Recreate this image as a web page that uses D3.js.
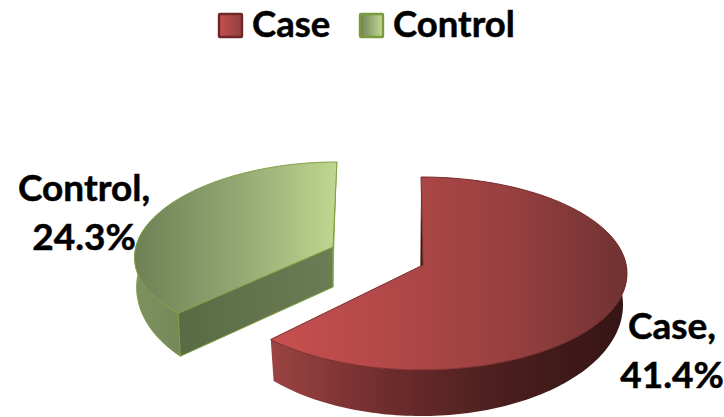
<!DOCTYPE html>
<html>
<head>
<meta charset="utf-8">
<style>
html,body{margin:0;padding:0;background:#fff}
svg{display:block}
text{font-family:Lato,"Open Sans",sans-serif;font-weight:700;fill:#000;stroke:#000;stroke-width:0.5px}
</style>
<script src="https://cdn.jsdelivr.net/npm/d3@7"></script>
</head>
<body>
<svg id="chart" width="724" height="417"></svg>
<script>
const categories = ["Case", "Control"];
const values = [41.4, 24.3];
const labelLines = [["Case,", "41.4%"], ["Control,", "24.3%"]];

const W = 724, H = 417;
const svg = d3.select("#chart").attr("viewBox", [0, 0, W, H]);
const defs = svg.append("defs");

// Horizontal gradients shared by the slice faces, walls and legend keys
function gradient(id, stops, x1, x2) {
  const g = defs.append("linearGradient").attr("id", id);
  if (x1 !== undefined) {
    g.attr("gradientUnits", "userSpaceOnUse").attr("x1", x1).attr("x2", x2).attr("y1", 0).attr("y2", 0);
  }
  stops.forEach((c, i) => g.append("stop").attr("offset", i / (stops.length - 1)).attr("stop-color", c));
}
gradient("caseTop", ["#c85050", "#b24848", "#984040", "#703232"], 271, 627);
gradient("caseWall", ["#9c4343", "#6e2c2c", "#4a1e1e", "#361515"], 271, 622);
gradient("controlTop", ["#6f8055", "#93a672", "#bfd790"], 135, 337);
gradient("controlFront", ["#5a6a45", "#6c7c55"], 178, 333);
gradient("controlOuter", ["#7d9160", "#75885a"], 135, 180);
gradient("keyCase", ["#c45050", "#93403f"]);
gradient("keyControl", ["#6f8055", "#c2da94"]);

// Tilted-disc projection for each slice: apex position plus the upper and lower rims
const geometry = {
  Case: {
    apex: [423, 265], drop: [-3, 40],
    top: {xc: -2, yc: 8.5, rx: 206, ry: 96.5, k: 0},
    low: {xc: -2, yc: 40, rx: 202, ry: 111, k: 0},
    wallStart: 62
  },
  Control: {
    apex: [333, 247], drop: [0, 40],
    top: {xc: -8, yc: 4.8, rx: 190, ry: 89.8, k: 11.9},
    low: {xc: -8, yc: 34, rx: 188, ry: 110, k: 11}
  }
};
const project = (apex, p, a) => [
  apex[0] + p.xc + p.rx * Math.sin(a) + p.k * Math.cos(a),
  apex[1] + p.yc - p.ry * Math.cos(a)
];
const sweep = (a0, a1) => d3.range(0, 121).map(i => a0 + (a1 - a0) * i / 120);
const line = d3.line();
const fillColors = d3.scaleOrdinal(categories, ["url(#caseTop)", "url(#controlTop)"]);
const edgeColors = d3.scaleOrdinal(categories, ["#7a2a2a", "#7f9f42"]);

const slices = d3.pie().sort(null).value(d => d.value).startAngle(0).endAngle(2 * Math.PI)(
  categories.map((name, i) => ({name, value: values[i]}))
);

// Back-to-front: the detached slice first, then the larger one
slices.slice().reverse().forEach(s => {
  const name = s.data.name, g = geometry[name];
  const layer = svg.append("g").attr("class", "slice-" + name);
  const upper = a => project(g.apex, g.top, a);
  const lower = a => project(g.apex, g.low, a);
  const apexDown = [g.apex[0] + g.drop[0], g.apex[1] + g.drop[1]];

  if (name === "Case") {
    // Thin inner wall along the start edge
    const r0 = upper(s.startAngle);
    layer.append("path").attr("fill", "#3d1616")
      .attr("d", line([r0, lower(s.startAngle), apexDown, g.apex]) + "Z");
    // Outer wall running round the front, from the right side to the cut
    const wallA = sweep(g.wallStart * Math.PI / 180, s.endAngle);
    layer.append("path").attr("fill", "url(#caseWall)")
      .attr("d", line(wallA.map(upper).concat(wallA.slice().reverse().map(lower))) + "Z");
  } else {
    // Outer wall on the left, then the cut face towards the viewer
    const wallA = sweep(s.startAngle, 290 * Math.PI / 180);
    layer.append("path").attr("fill", "url(#controlOuter)").attr("stroke", "#7f9f42").attr("stroke-width", 1)
      .attr("d", line(wallA.map(upper).concat(wallA.slice().reverse().map(lower))) + "Z");
    layer.append("path").attr("fill", "url(#controlFront)").attr("stroke", "#7f9f42").attr("stroke-width", 1)
      .attr("d", line([upper(s.startAngle), g.apex, apexDown, lower(s.startAngle)]) + "Z");
    // Sliver of the far wall at the end edge
    layer.append("path").attr("fill", "#86a84e").attr("stroke", "#86a84e").attr("stroke-width", 0.8)
      .attr("d", line([upper(s.endAngle), g.apex, apexDown]) );
  }

  const faceA = sweep(s.startAngle, s.endAngle);
  layer.append("path")
    .attr("fill", fillColors(name))
    .attr("stroke", edgeColors(name))
    .attr("stroke-width", 1)
    .attr("stroke-linejoin", "round")
    .attr("d", line([g.apex].concat(faceA.map(upper))) + "Z");
});

// Legend row
const legendX = d3.scaleOrdinal(categories, [219, 360]);
const keyFill = d3.scaleOrdinal(categories, ["url(#keyCase)", "url(#keyControl)"]);
const keyEdge = d3.scaleOrdinal(categories, ["#6e2626", "#7a9a3c"]);
const legend = svg.append("g").selectAll("g").data(categories).join("g")
  .attr("transform", d => `translate(${legendX(d)},14)`);
legend.append("rect").attr("width", 23).attr("height", 23).attr("rx", 1)
  .attr("fill", keyFill).attr("stroke", keyEdge).attr("stroke-width", 2.4);
legend.append("text").attr("x", 33).attr("y", 23).attr("font-size", 36.5).text(d => d);

// Data labels beside each slice
const labelX = d3.scaleOrdinal(categories, [672, 84]);
const labelY = d3.scaleOrdinal(categories, [339, 201]);
svg.append("g").selectAll("text").data(categories).join("text")
  .attr("text-anchor", "middle")
  .attr("font-size", 37)
  .attr("x", d => labelX(d))
  .attr("y", d => labelY(d))
  .selectAll("tspan").data(d => labelLines[categories.indexOf(d)].map(t => ({t, x: labelX(d)})))
  .join("tspan")
  .attr("x", d => d.x)
  .attr("dy", (d, i) => i ? 49 : 0)
  .text(d => d.t);
</script>
</body>
</html>
